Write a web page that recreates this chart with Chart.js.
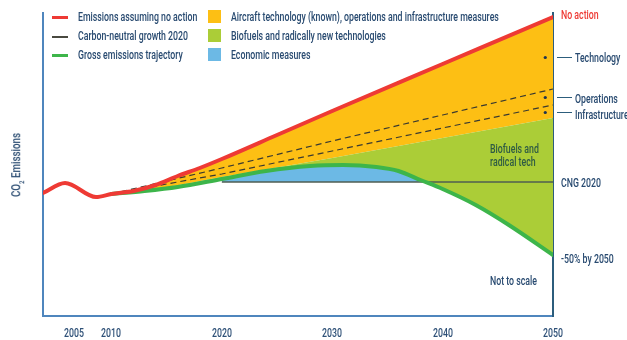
<!DOCTYPE html>
<html>
<head>
<meta charset="utf-8">
<script src="https://cdn.jsdelivr.net/npm/chart.js@4.4.1/dist/chart.umd.min.js"></script>
<style>
  body { margin: 0; background: #fff; }
  #wrap { position: relative; width: 627px; height: 340px; overflow: hidden;
          font-family: Roboto, "Noto Sans", sans-serif; font-weight: 500; color: #284a70; }
  canvas { position: absolute; left: 0; top: 0; }
  .t { position: absolute; font-size: 12px; line-height: 12px; white-space: nowrap;
       transform: scaleX(0.73); transform-origin: 0 50%; }
  .tick { position: absolute; top: 327px; font-size: 12px; line-height: 12px; color: #2e5077;
          transform: translateX(-50%) scaleX(0.73); }
  .ln { position: absolute; width: 16px; height: 3px; }
  .sq { position: absolute; width: 13px; height: 13px; }
  #ylab { position: absolute; left: 17px; top: 165px; font-size: 13px; white-space: nowrap;
          transform: translate(-50%, -50%) rotate(-90deg) scaleX(0.75); }
  #ylab sub { font-size: 8px; }
</style>
</head>
<body>
<div id="wrap">
  <canvas id="chart" width="627" height="340"></canvas>

  <div class="ln" style="left:52px;top:16px;background:#ee3a34"></div>
  <div class="t" style="left:78px;top:11px">Emissions assuming no action</div>
  <div class="ln" style="left:52px;top:36px;height:1.5px;background:#4a4a40"></div>
  <div class="t" style="left:78px;top:30px">Carbon-neutral growth 2020</div>
  <div class="ln" style="left:52px;top:54px;background:#3db54a"></div>
  <div class="t" style="left:78px;top:49px">Gross emissions trajectory</div>

  <div class="sq" style="left:208px;top:10px;background:#fdbf14"></div>
  <div class="t" style="left:231px;top:11px">Aircraft technology (known), operations and infrastructure measures</div>
  <div class="sq" style="left:208px;top:29px;background:#abcd37"></div>
  <div class="t" style="left:231px;top:30px">Biofuels and radically new technologies</div>
  <div class="sq" style="left:208px;top:48px;background:#6cb9e5"></div>
  <div class="t" style="left:231px;top:49px">Economic measures</div>

  <div class="t" style="left:561px;top:9px;color:#ee3a34">No action</div>
  <div class="t" style="left:575px;top:52px">Technology</div>
  <div class="t" style="left:575px;top:93px">Operations</div>
  <div class="t" style="left:575px;top:109px">Infrastructure</div>
  <div class="t" style="left:561px;top:177px">CNG 2020</div>
  <div class="t" style="left:561px;top:253px">-50% by 2050</div>
  <div class="t" style="left:490px;top:143px;line-height:13px;color:#2f5b44">Biofuels and<br>radical tech</div>
  <div class="t" style="left:490px;top:275px">Not to scale</div>

  <div id="ylab">CO<sub>2</sub> Emissions</div>
</div>

<script>
// x ticks: the years before 2010 are squeezed in the picture (not to scale)
const tickLabels = ['2005', '2010', '2020', '2030', '2040', '2050'];
const tickSpots = [2006.6, 2010, 2020, 2030, 2040, 2050];

// emissions assuming no action (red)
const noActionYears = [2003.8, 2005.8, 2008.6, 2010, 2012, 2014, 2016, 2018, 2020, 2025, 2030, 2040, 2050];
const noActionValues = [123, 133, 119, 122, 125, 131, 140, 148, 157, 181, 205, 252, 299];

// lower edge of the technology band = top of biofuels band
const biofuelTopYears = [2010, 2015, 2020, 2030, 2040, 2050];
const biofuelTopValues = [122, 129, 139, 158, 178, 198];

// dashed lines
const operationsYears = [2010, 2020, 2030, 2040, 2050];
const operationsValues = [122, 148, 175, 201, 227];
const infraYears = [2010, 2020, 2030, 2040, 2050];
const infraValues = [122, 142, 165, 188, 211];

// gross emissions trajectory (green)
const grossYears = [2010, 2013, 2016, 2020, 2024, 2028, 2031, 2034, 2036, 2038, 2040, 2043, 2046, 2050];
const grossValues = [122, 125, 129, 137, 145, 150, 151, 149, 145, 136, 127, 111, 91, 61];

// carbon-neutral growth from 2020
const cngYears = [2020, 2050];
const cngValues = [134, 134];

const pts = (xs, ys) => xs.map((x, i) => ({ x: x, y: ys[i] }));

const RED = '#ee3a34';
const YELLOW = '#fdbf14';
const LIME = '#abcd37';
const GREEN = '#3db54a';
const BLUE = '#6cb9e5';

const base = { pointRadius: 0, pointHoverRadius: 0 };

const datasets = [
  // 0: yellow band between no-action and biofuel top
  Object.assign({ data: pts(noActionYears, noActionValues), borderWidth: 0, backgroundColor: YELLOW,
    fill: { target: 1 }, cubicInterpolationMode: 'monotone', order: 10 }, base),
  // 1: lime band between biofuel top and gross trajectory
  Object.assign({ data: pts(biofuelTopYears, biofuelTopValues), borderWidth: 0, backgroundColor: LIME,
    fill: { target: 2 }, cubicInterpolationMode: 'monotone', order: 9 }, base),
  // 2: blue where gross trajectory is above CNG
  Object.assign({ data: pts(grossYears, grossValues), borderWidth: 0,
    fill: { target: 3, above: BLUE, below: 'rgba(0,0,0,0)' }, cubicInterpolationMode: 'monotone', order: 8 }, base),
  // 3: CNG line
  Object.assign({ data: pts(cngYears, cngValues), borderColor: '#4f5e52', borderWidth: 1.5, fill: false, order: 5 }, base),
  // 4, 5: dashed lines
  Object.assign({ data: pts(operationsYears, operationsValues), borderColor: '#3a3a30', borderWidth: 1.2,
    borderDash: [6, 4], fill: false, order: 4 }, base),
  Object.assign({ data: pts(infraYears, infraValues), borderColor: '#3a3a30', borderWidth: 1.2,
    borderDash: [6, 4], fill: false, order: 4 }, base),
  // 6: gross trajectory line
  Object.assign({ data: pts(grossYears, grossValues), borderColor: GREEN, borderWidth: 4, fill: false,
    cubicInterpolationMode: 'monotone', borderCapStyle: 'round', order: 2 }, base),
  // 7: no action line
  Object.assign({ data: pts(noActionYears, noActionValues), borderColor: RED, borderWidth: 4, fill: false,
    cubicInterpolationMode: 'monotone', borderCapStyle: 'round', order: 1 }, base)
];

// leader lines for the band labels on the right
const leaders = {
  id: 'leaders',
  afterDatasetsDraw(chart) {
    const ctx = chart.ctx;
    const xs = chart.scales.x, ys = chart.scales.y;
    const last = a => a[a.length - 1];
    const mids = [
      (last(noActionValues) + last(operationsValues)) / 2 - 4,
      (last(operationsValues) + last(infraValues)) / 2,
      (last(infraValues) + last(biofuelTopValues)) / 2
    ];
    const dotX = xs.getPixelForValue(2049.3);
    ctx.save();
    ctx.fillStyle = '#1f3550';
    ctx.strokeStyle = '#2c5d7c';
    ctx.lineWidth = 1;
    mids.forEach(v => {
      const y = Math.round(ys.getPixelForValue(v)) + 0.5;
      ctx.beginPath();
      ctx.arc(dotX, y, 1.6, 0, Math.PI * 2);
      ctx.fill();
      ctx.beginPath();
      ctx.moveTo(chart.chartArea.right + 4, y);
      ctx.lineTo(chart.chartArea.right + 19, y);
      ctx.stroke();
    });
    ctx.restore();
  }
};

// year labels under the x axis, placed from the x scale
const yearLabels = {
  id: 'yearLabels',
  afterRender(chart) {
    if (chart._yearsDone) return;
    chart._yearsDone = true;
    const wrap = document.getElementById('wrap');
    chart.scales.x.ticks.forEach((t, i) => {
      const d = document.createElement('div');
      d.className = 'tick';
      d.style.left = chart.scales.x.getPixelForValue(t.value) + 'px';
      d.textContent = tickLabels[i];
      wrap.appendChild(d);
    });
  }
};

new Chart(document.getElementById('chart'), {
  type: 'line',
  data: { datasets: datasets },
  plugins: [leaders, yearLabels],
  options: {
    responsive: false,
    animation: false,
    layout: { padding: { left: 43, right: 74, top: 13, bottom: 0 } },
    plugins: { legend: { display: false }, tooltip: { enabled: false } },
    scales: {
      x: {
        type: 'linear', min: 2003.8, max: 2050,
        grid: { display: false, drawTicks: false },
        border: { color: '#4f86bd', width: 2 },
        afterBuildTicks: s => { s.ticks = tickSpots.map(v => ({ value: v })); },
        afterFit: s => { s.height = 24; },
        ticks: { display: false }
      },
      y: {
        min: 0, max: 303,
        grid: { display: false, drawTicks: false },
        border: { color: '#4f86bd', width: 2 },
        ticks: { display: false },
        afterFit: s => { s.width = 0; }
      },
      y2: {
        position: 'right', min: 0, max: 303,
        grid: { display: false, drawTicks: false },
        border: { color: '#2c5d7c', width: 2 },
        ticks: { display: false },
        afterFit: s => { s.width = 0; }
      }
    }
  }
});
</script>
</body>
</html>
